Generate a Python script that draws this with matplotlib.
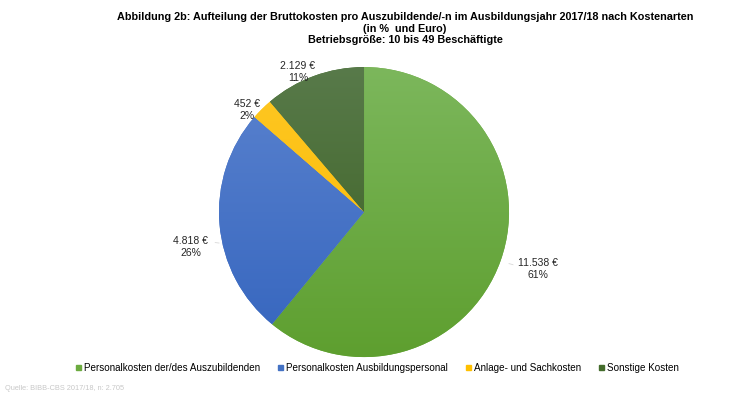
import matplotlib.pyplot as plt
from matplotlib.patches import Patch
from matplotlib.colors import LinearSegmentedColormap
import numpy as np

plt.rcParams['font.family'] = ['Liberation Sans', 'DejaVu Sans']

categories = ['Personalkosten der/des Auszubildenden', 'Personalkosten Ausbildungspersonal',
              'Anlage- und Sachkosten', 'Sonstige Kosten']
values = [11538, 4818, 452, 2129]
value_labels = ['11.538 €', '4.818 €', '452 €', '2.129 €']
pct_labels = ['61%', '26%', '2%', '11%']
colors = ['#6cab3f', '#4472c4', '#ffc000', '#446c2c']
# lighter top / darker bottom of the slight gradient in the original
top_colors = ['#7cb75c', '#5b83cf', '#ffc824', '#587a4a']
bottom_colors = ['#5e9f2f', '#3565be', '#f8b800', '#3a5f1f']
label_dist = [1.26, 1.22, 1.07, 1.07]
label_shift = [1.5, 6.5, 4, 5.0]  # degrees
leader = [True, True, False, False]

fig = plt.figure(figsize=(7.3, 3.99), dpi=100)
ax = fig.add_axes([0.3, 0.105, 0.3973, 0.727])
wedges, _ = ax.pie(values, colors=colors, startangle=90, counterclock=False,
                   wedgeprops=dict(linewidth=0))

# slight vertical gradient in each slice
grad = np.linspace(0, 1, 256).reshape(-1, 1)
for w, ct, cb in zip(wedges, top_colors, bottom_colors):
    cmap = LinearSegmentedColormap.from_list('g', [cb, ct])
    im = ax.imshow(grad, cmap=cmap, extent=(-1, 1, -1, 1), origin='lower',
                   aspect='auto', zorder=w.get_zorder() + 0.1)
    im.set_clip_path(w)
ax.set_xlim(-1, 1)
ax.set_ylim(-1, 1)
ax.set_aspect('equal')

for w, lab, p, d, s, ld in zip(wedges, value_labels, pct_labels, label_dist, label_shift, leader):
    mid = np.deg2rad((w.theta1 + w.theta2) / 2 + s)
    x, y = d * np.cos(mid), d * np.sin(mid)
    ax.text(x, y, f'{lab}\n{p}', ha='center', va='center',
            fontsize=7.5, color='#262626', linespacing=1.3, zorder=5)
    if ld:
        sx = np.sign(x)
        ax.plot([sx * 1.0, x - sx * 0.17], [y * 0.93 + 0.01, y + 0.03], color='#d8d8d8',
                lw=0.6, clip_on=False, zorder=4)

fig.text(0.555, 0.97, 'Abbildung 2b: Aufteilung der Bruttokosten pro Auszubildende/-n im Ausbildungsjahr 2017/18 nach Kostenarten\n'
         '(in %  und Euro)\nBetriebsgröße: 10 bis 49 Beschäftigte',
         ha='center', va='top', fontsize=7.85, fontweight='bold', linespacing=1.22)

handles = [Patch(color=c) for c in colors]
fig.legend(handles, categories, loc='center', bbox_to_anchor=(0.517, 0.078), ncol=4, frameon=False,
           fontsize=7.1, handlelength=0.5, handleheight=0.5, handletextpad=0.3, columnspacing=1.85)

fig.text(0.007, 0.022, 'Quelle: BIBB-CBS 2017/18, n: 2.705', fontsize=5.3, color='#c8c8c8')

fig.savefig('out.png', dpi=100)
